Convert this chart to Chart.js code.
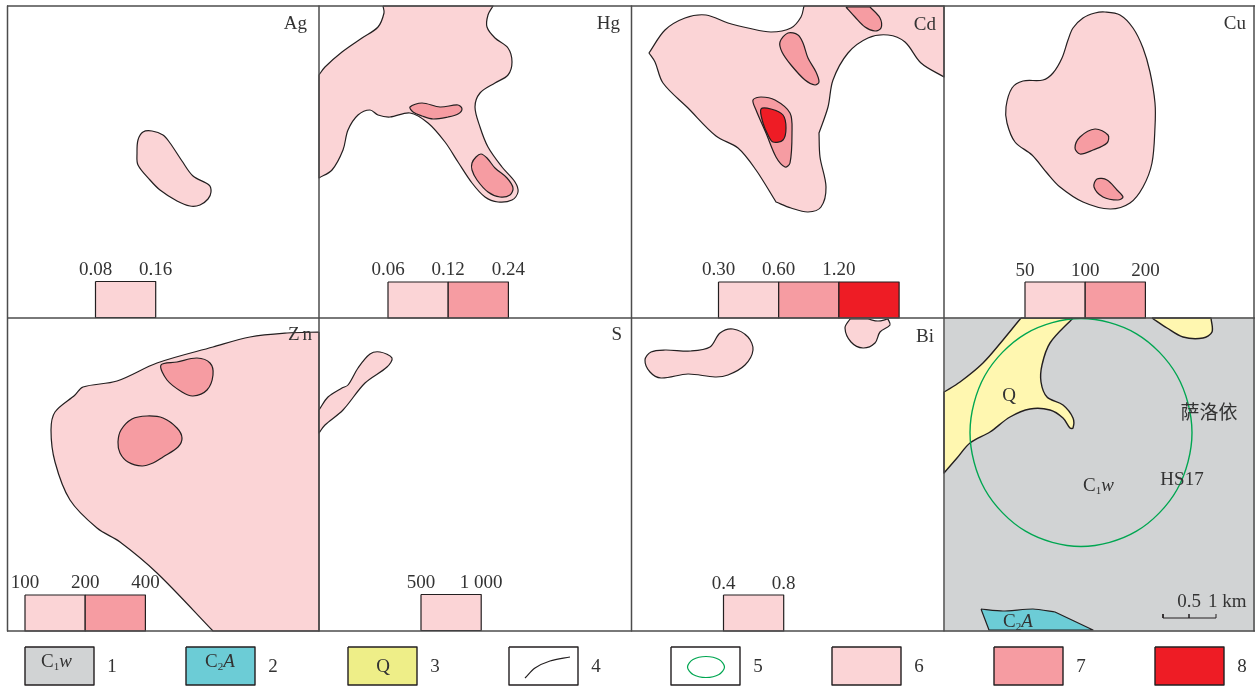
<!DOCTYPE html>
<html>
<head>
<meta charset="utf-8">
<script src="https://cdn.jsdelivr.net/npm/chart.js@4/dist/chart.umd.min.js"></script>
<style>
html, body { margin: 0; padding: 0; background: #fff; }
canvas { display: block; }
</style>
</head>
<body>
<canvas id="myChart" width="1255" height="687"></canvas>
<script>
// element names and contour breaks
var elements = ['Ag', 'Hg', 'Cd', 'Cu', 'Zn', 'S', 'Bi'];
var agTicks = ['0.08', '0.16'];
var hgTicks = ['0.06', '0.12', '0.24'];
var cdTicks = ['0.30', '0.60', '1.20'];
var cuTicks = ['50', '100', '200'];
var znTicks = ['100', '200', '400'];
var sTicks = ['500', '1 000'];
var biTicks = ['0.4', '0.8'];
var legendNumbers = ['1', '2', '3', '4', '5', '6', '7', '8'];

// contours, in map units. a repeated point is a sharp corner
var agOuter = [[143,132],[152,131],[163,135],[170,143],[182,161],[193,176],[209,185],[211,192],[208,199],[200,205],[190,206],[177,201],[160,190],[150,180],[138,165],[137,153],[138,140]];

var hgOuter = [[383,6],[383,6],[384,13],[378,27],[362,38],[342,52],[325,67],[319,75],[319,75],[319,178],[319,178],[332,170],[343,150],[348,130],[358,115],[370,110],[378,115],[390,117],[410,113],[428,123],[445,142],[458,162],[472,183],[485,197],[498,202],[512,200],[518,192],[515,182],[502,167],[488,147],[480,127],[475,107],[480,93],[495,83],[508,75],[512,62],[508,48],[495,38],[487,27],[488,15],[493,6],[493,6]];
var hgMid1 = [[410,107],[422,103],[440,107],[458,105],[462,109],[458,114],[448,117],[433,119],[422,116],[413,112]];
var hgMid2 = [[472,163],[476,157],[481,154],[487,158],[495,168],[507,178],[513,188],[510,195],[500,197],[488,192],[477,180],[472,170]];

var cdOuter = [[804,6],[804,6],[801,17],[791,28],[771,32],[748,28],[728,23],[706,15],[685,18],[665,30],[649,53],[649,53],[655,62],[663,83],[688,108],[716,136],[738,148],[756,170],[776,202],[776,202],[791,208],[808,212],[821,207],[826,187],[820,157],[819,133],[819,133],[828,107],[833,80],[848,53],[868,38],[888,35],[905,42],[921,63],[944,77],[944,77],[944,6],[944,6]];
var cdMid1 = [[846,7],[846,7],[870,7],[870,7],[880,18],[881,28],[875,31],[865,27],[855,17]];
var cdMid2 = [[780,42],[788,33],[798,35],[803,43],[808,58],[816,72],[819,82],[815,85],[805,80],[791,65],[782,52]];
var cdMid3 = [[753,100],[761,97],[775,100],[790,113],[792,133],[790,163],[785,167],[776,157],[766,133],[756,110]];
var cdHigh = [[761,109],[771,109],[783,115],[786,128],[783,140],[773,142],[768,135],[763,123]];

var cuOuter = [[1105,12],[1120,15],[1133,28],[1143,48],[1150,72],[1155,103],[1155,127],[1152,163],[1143,187],[1130,203],[1110,209],[1083,202],[1060,187],[1047,173],[1032,155],[1015,142],[1007,123],[1006,107],[1012,88],[1023,81],[1043,80],[1053,73],[1062,58],[1068,40],[1073,28],[1083,18],[1095,13]];
var cuMid1 = [[1075,148],[1080,137],[1095,129],[1108,135],[1107,143],[1093,150],[1080,154]];
var cuMid2 = [[1097,179],[1107,180],[1117,190],[1123,197],[1118,200],[1103,197],[1094,187]];

var znOuter = [[319,332],[319,332],[287,333],[250,337],[213,347],[157,363],[117,381],[83,387],[75,395],[55,412],[51,430],[55,462],[70,500],[97,528],[120,542],[157,573],[213,631],[213,631],[319,631],[319,631]];
var znMid1 = [[161,365],[177,362],[197,358],[210,363],[213,375],[207,390],[193,396],[182,392],[167,380]];
var znMid2 = [[118,442],[121,430],[132,419],[147,416],[163,418],[177,428],[182,438],[178,447],[163,457],[153,463],[142,466],[128,462],[120,453]];

var sOuter = [[319,410],[319,410],[328,397],[342,388],[348,385],[358,368],[370,354],[380,352],[392,358],[387,367],[365,383],[343,410],[325,425],[319,433],[319,433]];

var biOuter1 = [[645,360],[651,352],[665,350],[691,351],[710,347],[720,333],[733,329],[748,337],[753,350],[745,365],[728,375],[715,377],[688,374],[661,378],[650,372]];
var biOuter2 = [[850,319],[850,319],[845,328],[851,342],[863,348],[875,343],[880,332],[890,325],[888,319],[888,319],[878,321],[868,319],[868,319]];

// geology panel
var qWest = [[1021,318],[1021,318],[1003,340],[983,363],[960,382],[944,392],[944,392],[944,473],[944,473],[957,458],[970,443],[990,432],[1010,417],[1030,409],[1050,410],[1063,418],[1070,428],[1073,428],[1073,418],[1063,405],[1047,397],[1041,382],[1042,365],[1050,343],[1073,318],[1073,318]];
var qEast = [[1152,318],[1152,318],[1167,328],[1183,337],[1203,338],[1212,332],[1211,318],[1211,318]];
var c2a = [[981,609],[981,609],[1003,611],[1033,609],[1055,612],[1055,612],[1093,630],[1093,630],[989,630],[989,630]];
var ore = [[1192,432.5],[1177,375.5],[1136.5,333.8],[1081,318.5],[1025.5,333.8],[984.9,375.5],[970,432.5],[984.9,489.5],[1025.5,531.2],[1081,546.5],[1136.5,531.2],[1177.1,489.5]];
var scaleBar = [[1163,614],[1163,618],[1189,618],[1189,614],[1189,618],[1216,618],[1216,614]];

// legend swatch samples
var faultSample = [[525,678],[535,668],[550,661],[570,657]];
var oreSample = [[724.5,667],[719,659.5],[706,656.5],[693,659.5],[687.5,667],[693,674.5],[706,677.5],[719,674.5]];

var PINK = '#fbd4d6', ROSE = '#f69ca2', RED = '#ee1c25';
var GREY = '#d1d3d4', CYAN = '#6cccd6', YELLOW = '#fff7b0', KHAKI = '#eeee88';
var INK = '#231f20', TEXT = '#333333', FRAME = '#4d4d4d', GREEN = '#00a651';

var toXY = function(p) { return p.map(function(q) { return { x: q[0], y: q[1] }; }); };
var shut = function(p) { return p.concat([p[0]]); };
var box = function(x0, y0, x1, y1) { return [[x0,y0],[x1,y0],[x1,y1],[x0,y1],[x0,y0]]; };

var datasets = [];
var add = function(pts, fill, color, width, tension) {
    datasets.push({
        data: toXY(pts),
        showLine: true,
        pointRadius: 0,
        borderColor: color,
        borderWidth: width,
        backgroundColor: fill || 'transparent',
        fill: fill ? 'shape' : false,
        tension: tension === undefined ? 0.33 : tension,
        borderJoinStyle: 'round',
        clip: false
    });
};
// smooth closed contour: wrap the ends so there is no kink, then hide the two wrapped bits of stroke
var addLoop = function(p, fill, color, width) {
    add([p[p.length - 1]].concat(p, [p[0], p[1]]), fill, color, width);
    var last = p.length + 1;
    datasets[datasets.length - 1].segment = {
        borderColor: function(ctx) {
            return (ctx.p0DataIndex === 0 || ctx.p0DataIndex === last) ? 'transparent' : undefined;
        }
    };
};

// geology goes first so the frames sit on top
add(box(945, 318, 1254, 631), GREY, GREY, 1, 0);
add(shut(qWest), YELLOW, INK, 1.4);
add(shut(qEast), YELLOW, INK, 1.4);
add(shut(c2a), CYAN, INK, 1.2, 0.2);
addLoop(ore, null, GREEN, 1.4);
add(scaleBar, null, INK, 1, 0);

addLoop(agOuter, PINK, INK, 1.2);
add(shut(hgOuter), PINK, INK, 1.2);
addLoop(hgMid1, ROSE, INK, 1.2);
addLoop(hgMid2, ROSE, INK, 1.2);
add(shut(cdOuter), PINK, INK, 1.2);
add(shut(cdMid1), ROSE, INK, 1.2);
addLoop(cdMid2, ROSE, INK, 1.2);
addLoop(cdMid3, ROSE, INK, 1.2);
addLoop(cdHigh, RED, INK, 1.2);
addLoop(cuOuter, PINK, INK, 1.2);
addLoop(cuMid1, ROSE, INK, 1.2);
addLoop(cuMid2, ROSE, INK, 1.2);
add(shut(znOuter), PINK, INK, 1.2);
addLoop(znMid1, ROSE, INK, 1.2);
addLoop(znMid2, ROSE, INK, 1.2);
add(shut(sOuter), PINK, INK, 1.2);
addLoop(biOuter1, PINK, INK, 1.2);
add(shut(biOuter2), PINK, INK, 1.2);

// contour keys inside each panel: ticks sit on the box edges
var keys = [
    { ticks: agTicks, left: 95.5, top: 281.5, bottom: 317.5, baseline: 275, fills: [PINK] },
    { ticks: hgTicks, left: 388, top: 282, bottom: 318, baseline: 275, fills: [PINK, ROSE] },
    { ticks: cdTicks, left: 718.5, top: 282, bottom: 318, baseline: 275, fills: [PINK, ROSE, RED] },
    { ticks: cuTicks, left: 1025, top: 282, bottom: 318, baseline: 276, fills: [PINK, ROSE] },
    { ticks: znTicks, left: 25, top: 595, bottom: 631, baseline: 588, fills: [PINK, ROSE] },
    { ticks: sTicks, left: 421, top: 594.5, bottom: 630.5, baseline: 588, fills: [PINK] },
    { ticks: biTicks, left: 723.5, top: 595, bottom: 631, baseline: 589, fills: [PINK] }
];
keys.forEach(function(k) {
    k.fills.forEach(function(c, i) {
        add(box(k.left + i * 60.2, k.top, k.left + (i + 1) * 60.2, k.bottom), c, INK, 1.2, 0);
    });
});

// panel frames
[7.5, 319, 631.5, 944, 1254].forEach(function(x) { add([[x, 6], [x, 631]], null, FRAME, 1.5, 0); });
[6, 318, 631].forEach(function(y) { add([[7, y], [1255, y]], null, FRAME, 1.5, 0); });

// bottom legend
var swatchFills = [GREY, CYAN, KHAKI, '#ffffff', '#ffffff', PINK, ROSE, RED];
var swatchLeft = [25, 186, 348, 509, 671, 832, 994, 1155];
swatchFills.forEach(function(c, i) {
    add(box(swatchLeft[i], 647, swatchLeft[i] + 69, 685), c, INK, 1.4, 0);
});
add(faultSample, null, INK, 1.2);
addLoop(oreSample, null, GREEN, 1.2);

// Chart.js paints dataset 0 last, we want the order above
datasets.reverse();

var labelText = {
    id: 'labelText',
    afterDatasetsDraw: function(chart) {
        var c = chart.ctx, sx = chart.scales.x, sy = chart.scales.y;
        var text = function(s, x, y, align, font) {
            c.font = font || '19px "Liberation Serif"';
            c.textAlign = align || 'center';
            c.textBaseline = 'alphabetic';
            c.fillStyle = TEXT;
            c.fillText(s, sx.getPixelForValue(x), sy.getPixelForValue(y));
        };
        // runs of normal / subscript / italic, for the formation codes
        var code = function(runs, x, y) {
            var px = sx.getPixelForValue(x), py = sy.getPixelForValue(y);
            c.textAlign = 'left';
            c.textBaseline = 'alphabetic';
            c.fillStyle = TEXT;
            runs.forEach(function(r) {
                c.font = r[1] === 'sub' ? '11px "Liberation Serif"' : (r[1] === 'i' ? 'italic 19px "Liberation Serif"' : '19px "Liberation Serif"');
                c.fillText(r[0], px, py + (r[1] === 'sub' ? 3 : 0));
                px += c.measureText(r[0]).width;
            });
        };

        var heads = [[307, 29], [620, 29], [936, 30], [1246, 29], [315, 340], [622, 340], [934, 342]];
        elements.forEach(function(e, i) {
            c.letterSpacing = e === 'Zn' ? '3px' : '0px';
            text(e, heads[i][0], heads[i][1], 'right');
        });
        c.letterSpacing = '0px';

        keys.forEach(function(k) {
            k.ticks.forEach(function(t, i) {
                text(t, k.left + i * 60.2, k.baseline);
            });
        });

        text('Q', 1009, 401);
        text('萨洛依', 1209, 419, 'center', '19px "Noto Sans CJK SC"');
        text('HS17', 1182, 485);
        code([['C'], ['1', 'sub'], ['w', 'i']], 1083, 491);
        code([['C'], ['2', 'sub'], ['A', 'i']], 1003, 627);
        text('0.5', 1189, 607);
        text('1 km', 1208, 607, 'left');

        code([['C'], ['1', 'sub'], ['w', 'i']], 41, 667);
        code([['C'], ['2', 'sub'], ['A', 'i']], 205, 667);
        text('Q', 383, 672);
        legendNumbers.forEach(function(n, i) {
            text(n, swatchLeft[i] + 87, 672);
        });
    }
};

var myChart = new Chart(document.getElementById('myChart'), {
    type: 'scatter',
    data: { datasets: datasets },
    options: {
        responsive: false,
        animation: false,
        layout: { padding: 0 },
        plugins: { legend: { display: false }, tooltip: { enabled: false } },
        scales: {
            x: { type: 'linear', display: false, min: 0, max: 1255 },
            y: { type: 'linear', display: false, min: 0, max: 687, reverse: true }
        }
    },
    plugins: [labelText]
});
</script>
</body>
</html>
